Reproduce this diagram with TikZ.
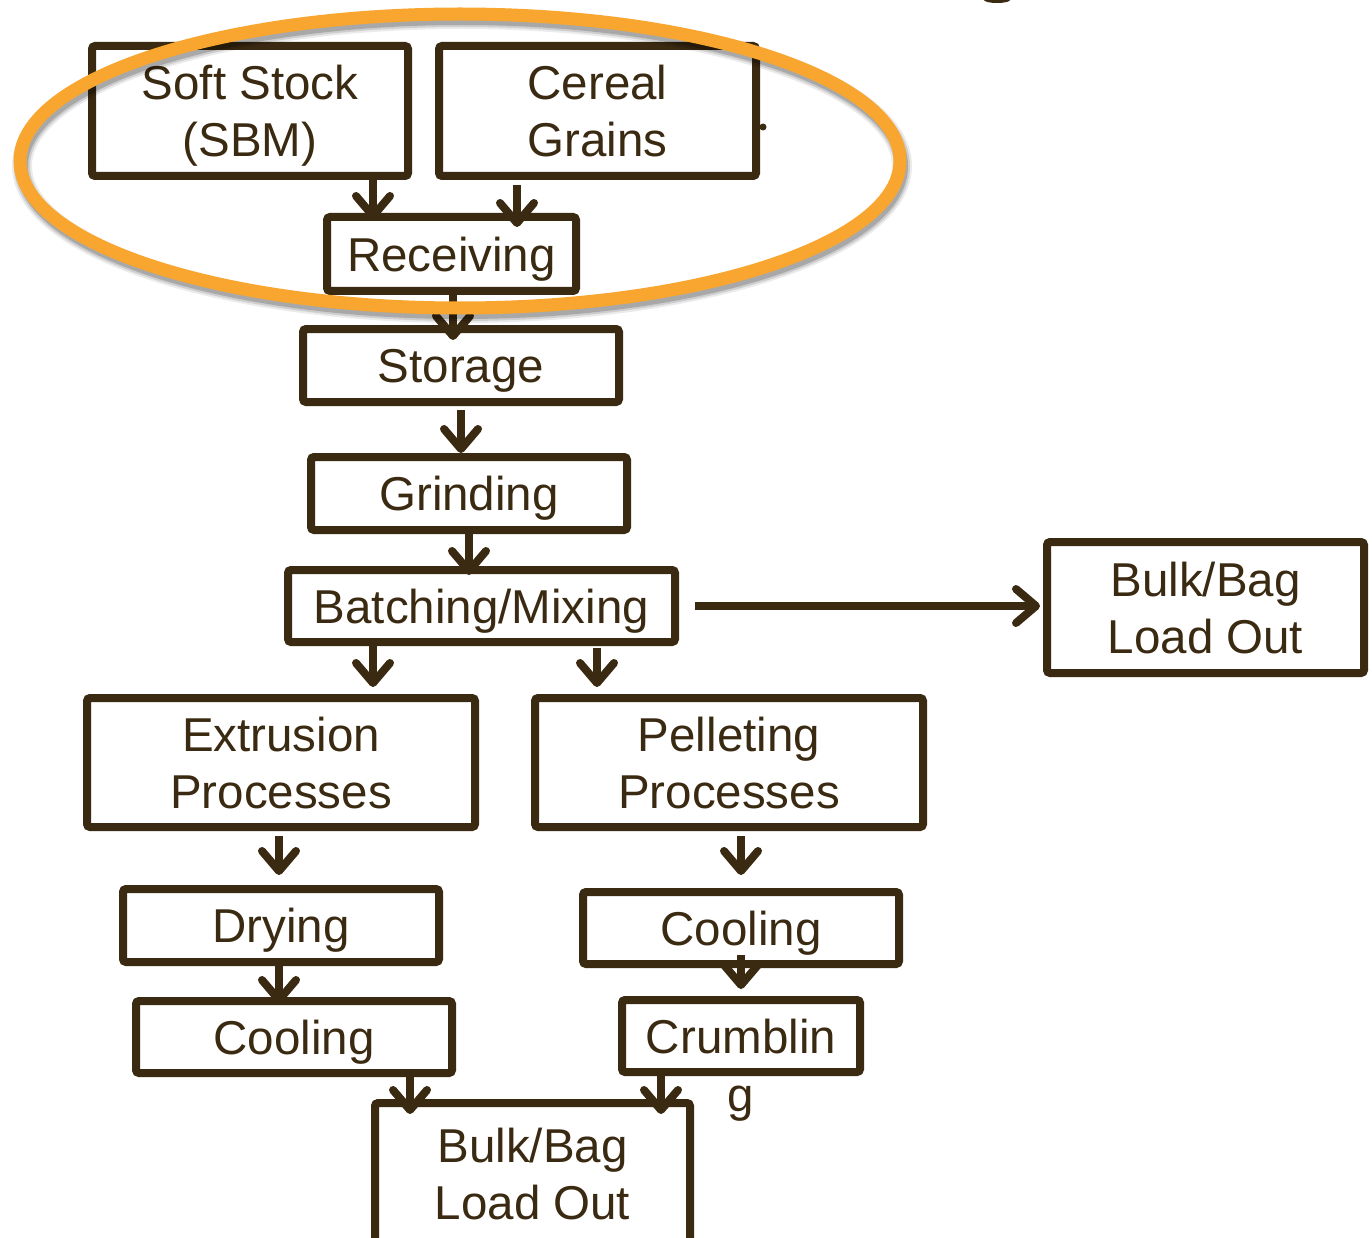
\documentclass[tikz,border=0pt]{standalone}
\usepackage{fontspec}
\setmainfont{Liberation Sans}
\usetikzlibrary{arrows.meta}
\definecolor{brn}{HTML}{3B2A12}
\definecolor{hilite}{HTML}{F8A62F}
\begin{document}
\begin{tikzpicture}[x=1pt,y=-1pt,
  box/.style={draw=brn, line width=8pt, rounded corners=3pt, text=brn,
    font=\fontsize{47.5}{57}\selectfont, align=center, inner sep=0pt,
    text depth=0pt},
  txt/.style={text=brn, font=\fontsize{47.5}{57}\selectfont, inner sep=0pt},
  arr/.style={draw=brn, line width=8pt,
    -{Straight Barb[length=20pt,width=34pt,line cap=round,line join=round]}}]
\clip (0,0) rectangle (1372,1238);
\fill[white] (0,0) rectangle (1372,1238);

% process boxes
\node[box, minimum width=316pt, minimum height=130pt] (soft)   at (250,111)    {Soft Stock\\(SBM)};
\node[box, minimum width=317pt, minimum height=130pt] (cereal) at (597.5,111)  {Cereal\\Grains};
\node[box, minimum width=249pt, minimum height=74pt]  (recv)   at (451.5,254)  {Receiving};
\node[box, minimum width=316pt, minimum height=73pt]  (store)  at (461,365.5)  {Storage};
\node[box, minimum width=316pt, minimum height=73pt]  (grind)  at (469,493.5)  {Grinding};
\node[box, minimum width=387pt, minimum height=72pt]  (batch)  at (481.5,606)  {Batching/Mixing};
\node[box, minimum width=317pt, minimum height=131pt] (bulkR)  at (1205.5,607.5) {Bulk/Bag\\Load Out};
\node[box, minimum width=388pt, minimum height=129pt] (extr)   at (281,762.5)  {Extrusion\\Processes};
\node[box, minimum width=388pt, minimum height=129pt] (pell)   at (729,762.5)  {Pelleting\\Processes};
\node[box, minimum width=316pt, minimum height=73pt]  (dry)    at (281,925.5)  {Drying};
\node[box, minimum width=316pt, minimum height=72pt]  (coolL)  at (294,1037)   {Cooling};
\node[box, minimum width=316pt, minimum height=72pt]  (coolR)  at (741,928)    {Cooling};
\node[box, minimum width=238pt, minimum height=72pt]  (crumb)  at (741,1036)   {Crumblin};
\node[txt, anchor=base] (crumbg) at (741,1111) {g};
\node[box, minimum width=315pt, minimum height=142pt] (bulkB)  at (532.5,1174) {Bulk/Bag\\Load Out};

% small stray marks
\fill[brn] (763,127) circle (3.5pt);
\fill[brn] (997,0) ellipse (13pt and 3pt);

% connectors
\draw[arr, shorten >=-7pt] ([xshift=123pt]soft.south) -- ([xshift=-78.5pt]recv.north);
\draw[arr, shorten <=5pt, shorten >=-14pt] ([xshift=-80.5pt]cereal.south) -- ([xshift=65.5pt]recv.north);
\draw[arr, shorten >=-15pt] ([xshift=1.5pt]recv.south) -- ([xshift=-8pt]store.north);
\draw[arr, shorten <=4pt] (store.south) -- ([xshift=-8pt]grind.north);
\draw[arr, shorten >=-9pt] (grind.south) -- ([xshift=-12.5pt]batch.north);
\draw[arr, shorten >=7pt] ([xshift=-108.5pt]batch.south) -- ([xshift=92pt]extr.north);
\draw[arr, shorten <=2pt, shorten >=7pt] ([xshift=115.5pt]batch.south) -- ([xshift=-132pt]pell.north);
\draw[arr, shorten <=16pt, shorten >=3pt] (batch.east) -- (bulkR.west |- batch.east);
\draw[arr, shorten <=5pt, shorten >=10pt] ([xshift=-2pt]extr.south) -- ([xshift=-2pt]dry.north);
\draw[arr, shorten <=5pt, shorten >=13pt] ([xshift=12pt]pell.south) -- (coolR.north);
\draw[arr, shorten >=-7pt] ([xshift=-2pt]dry.south) -- ([xshift=-15pt]coolL.north);
\draw[arr, shorten <=-13pt, shorten >=7pt] (coolR.south) -- (crumb.north);
\draw[arr, shorten >=-15pt] ([xshift=116pt]coolL.south) -- ([xshift=-122.5pt]bulkB.north);
\draw[arr, shorten >=-15pt] ([xshift=-80pt]crumb.south) -- ([xshift=128.5pt]bulkB.north);

% highlight ring with its soft shadow
\foreach \o/\w in {0.08/20, 0.12/16, 0.18/12}
  \draw[black, opacity=\o, line width=\w pt] (462,166) ellipse (440pt and 147pt);
\draw[hilite, line width=13pt] (460,161) ellipse (440pt and 147pt);
\end{tikzpicture}
\end{document}
